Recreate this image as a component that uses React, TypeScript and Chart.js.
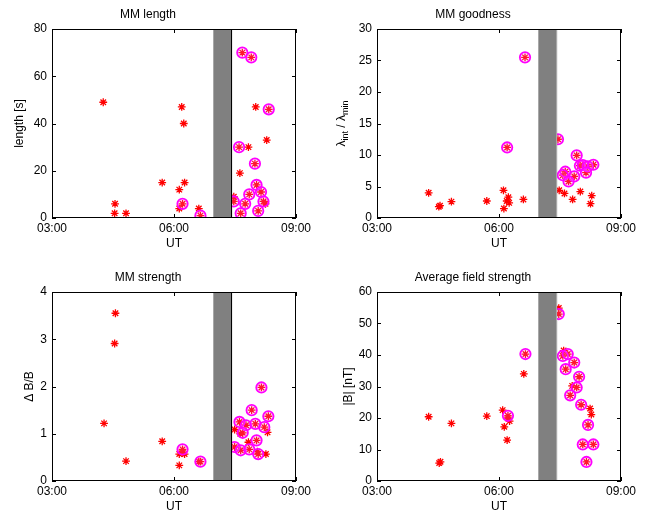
import React, { useEffect, useRef } from 'react';
import { Chart, registerables } from 'chart.js';

Chart.register(...registerables);

const FONT = "'Liberation Sans', Arial, Helvetica, sans-serif";

// Shared x axis (UT, decimal hours)
const xTickValues = [3, 6, 9];
const xTickLabels = ['03:00', '06:00', '09:00'];
const gapStart = 6.97;
const gapEnd = 7.43;

// MM length [s]
const lengthStarT = [4.26, 4.55, 4.54, 4.82, 5.71, 6.13, 6.13, 6.19, 6.24, 6.26, 6.61, 8.01, 8.28, 7.83, 7.62, 8.25, 7.47];
const lengthStarV = [49, 6, 2, 2, 15, 12, 4, 47, 40, 15, 4, 47, 33, 30, 19, 6, 9];
const lengthCircT = [6.21, 6.65, 7.68, 7.9, 8.33, 7.6, 7.99, 8.03, 8.14, 7.85, 8.2, 7.75, 8.07, 7.64, 7.47];
const lengthCircV = [6, 1, 70, 68, 46, 30, 23, 14, 11, 10, 7, 6, 3, 2, 7];

// MM goodness (lambda_int / lambda_min)
const goodStarT = [4.27, 4.52, 4.55, 4.83, 5.7, 6.11, 6.12, 6.19, 6.23, 6.25, 6.6, 7.48, 7.61, 7.81, 8.0, 8.28, 8.25];
const goodStarV = [4.0, 1.8, 1.95, 2.6, 2.7, 4.4, 1.5, 2.7, 3.3, 2.4, 2.95, 4.4, 3.9, 2.95, 4.2, 3.55, 2.27];
const goodCircT = [6.2, 6.64, 7.45, 7.91, 7.99, 8.06, 8.18, 8.32, 8.14, 7.85, 7.63, 7.57, 7.71];
const goodCircV = [11.2, 25.5, 12.5, 9.94, 8.3, 8.4, 8.2, 8.45, 7.2, 6.6, 7.35, 6.8, 5.8];

// MM strength (Delta B / B)
const strStarT = [4.56, 4.54, 4.28, 4.82, 5.71, 6.13, 6.13, 6.26, 6.22, 6.61, 8.3, 7.49, 7.63, 7.83, 8.05, 8.26];
const strStarV = [3.55, 2.91, 1.22, 0.42, 0.84, 0.33, 0.57, 0.57, 0.6, 0.41, 1.03, 1.09, 1.0, 0.82, 0.62, 0.57];
const strCircT = [6.21, 6.65, 8.15, 7.91, 8.32, 7.61, 7.77, 8.0, 8.22, 7.69, 8.03, 7.49, 7.64, 7.85, 8.07];
const strCircV = [0.67, 0.41, 1.98, 1.5, 1.37, 1.25, 1.18, 1.21, 1.14, 1.02, 0.86, 0.72, 0.65, 0.67, 0.57];

// Average field strength |B| [nT]
const fieldStarT = [4.27, 4.53, 4.56, 4.83, 5.7, 6.09, 6.13, 6.2, 6.22, 6.26, 6.61, 7.47, 7.59, 7.8, 8.24, 8.27];
const fieldStarV = [20.4, 5.7, 6.1, 18.3, 20.6, 22.5, 17.2, 13.0, 20.0, 19.0, 34.0, 54.9, 41.4, 30.2, 23.0, 21.1];
const fieldCircT = [6.22, 6.65, 7.47, 7.57, 7.69, 7.85, 7.64, 7.97, 7.91, 7.75, 8.02, 8.19, 8.06, 8.32, 8.15];
const fieldCircV = [20.7, 40.3, 53.0, 39.7, 40.3, 37.6, 35.5, 33.1, 29.7, 27.2, 24.2, 17.8, 11.6, 11.6, 6.05];

type Seg = { t: string; sub: boolean };

interface PanelCfg {
  title: string;
  yTitle: string | null;
  yRich?: Seg[];
  yMax: number;
  yStep: number;
  starT: number[];
  starV: number[];
  circT: number[];
  circV: number[];
  left: number;
  top: number;
  yTitleCenter: number;
  gapRightColor: string;
}

const panels: PanelCfg[] = [
  {
    title: 'MM length', yTitle: 'length [s]', yMax: 80, yStep: 20,
    starT: lengthStarT, starV: lengthStarV, circT: lengthCircT, circV: lengthCircV,
    left: 0, top: 0, yTitleCenter: 19.5, gapRightColor: '#000000',
  },
  {
    title: 'MM goodness', yTitle: null,
    yRich: [{ t: 'λ', sub: false }, { t: 'int', sub: true }, { t: ' / λ', sub: false }, { t: 'min', sub: true }],
    yMax: 30, yStep: 5,
    starT: goodStarT, starV: goodStarV, circT: goodCircT, circV: goodCircV,
    left: 325, top: 0, yTitleCenter: 16.7, gapRightColor: '#a8a8a8',
  },
  {
    title: 'MM strength', yTitle: 'Δ B/B', yMax: 4, yStep: 1,
    starT: strStarT, starV: strStarV, circT: strCircT, circV: strCircV,
    left: 0, top: 263, yTitleCenter: 29.7, gapRightColor: '#000000',
  },
  {
    title: 'Average field strength', yTitle: '|B| [nT]', yMax: 60, yStep: 10,
    starT: fieldStarT, starV: fieldStarV, circT: fieldCircT, circV: fieldCircV,
    left: 325, top: 263, yTitleCenter: 23.7, gapRightColor: '#a8a8a8',
  },
];

const CANVAS_W = 316;
const CANVAS_H = 251;
const Y_AXIS_W = 52;
const X_AXIS_H = 33;
const TICK_LEN = 4;

function Panel({ cfg }: { cfg: PanelCfg }) {
  const ref = useRef<HTMLCanvasElement>(null);

  useEffect(() => {
    if (!ref.current) return;
    const starPts = [...cfg.starT, ...cfg.circT].map((t, i) => ({
      x: t,
      y: i < cfg.starT.length ? cfg.starV[i] : cfg.circV[i - cfg.starT.length],
    }));
    const circPts = cfg.circT.map((t, i) => ({ x: t, y: cfg.circV[i] }));

    const framePlugin = {
      id: 'frame',
      afterDatasetsDraw(chart: any) {
        const { ctx, chartArea } = chart;
        const xs = chart.scales.x;
        const x0 = xs.getPixelForValue(gapStart);
        const x1 = xs.getPixelForValue(gapEnd);
        ctx.save();
        ctx.fillStyle = '#808080';
        ctx.fillRect(x0, chartArea.top, x1 - x0, chartArea.bottom - chartArea.top);
        ctx.lineWidth = 1;
        ctx.strokeStyle = '#a8a8a8';
        ctx.beginPath();
        ctx.moveTo(Math.round(x0) + 0.5, chartArea.top);
        ctx.lineTo(Math.round(x0) + 0.5, chartArea.bottom);
        ctx.stroke();
        ctx.strokeStyle = cfg.gapRightColor;
        ctx.beginPath();
        ctx.moveTo(Math.round(x1) - 0.5, chartArea.top);
        ctx.lineTo(Math.round(x1) - 0.5, chartArea.bottom);
        ctx.stroke();
        ctx.restore();
      },
      afterDraw(chart: any) {
        const { ctx, chartArea } = chart;
        const { left, right, top, bottom } = chartArea;
        const xs = chart.scales.x;
        const ys = chart.scales.y;
        ctx.save();
        ctx.strokeStyle = '#000';
        ctx.lineWidth = 1;
        ctx.strokeRect(left + 0.5, top + 0.5, right - left - 1, bottom - top - 1);
        ctx.beginPath();
        xs.ticks.forEach((tk: any) => {
          const px = Math.round(xs.getPixelForValue(tk.value)) + 0.5;
          ctx.moveTo(px, bottom);
          ctx.lineTo(px, bottom - TICK_LEN);
          ctx.moveTo(px, top);
          ctx.lineTo(px, top + TICK_LEN);
        });
        ys.ticks.forEach((tk: any) => {
          const py = Math.round(ys.getPixelForValue(tk.value)) + 0.5;
          ctx.moveTo(left, py);
          ctx.lineTo(left + TICK_LEN, py);
          ctx.moveTo(right, py);
          ctx.lineTo(right - TICK_LEN, py);
        });
        ctx.stroke();

        if (cfg.yRich) {
          const big = 12;
          const small = 9;
          const cx = cfg.yTitleCenter;
          const cy = (top + bottom) / 2;
          ctx.translate(cx, cy);
          ctx.rotate(-Math.PI / 2);
          ctx.fillStyle = '#000';
          ctx.textBaseline = 'middle';
          ctx.textAlign = 'left';
          const widths = cfg.yRich.map((s) => {
            ctx.font = `${s.sub ? small : big}px ${FONT}`;
            return ctx.measureText(s.t).width;
          });
          let x = -widths.reduce((a, b) => a + b, 0) / 2;
          cfg.yRich.forEach((s, i) => {
            ctx.font = `${s.sub ? small : big}px ${FONT}`;
            ctx.fillText(s.t, x, s.sub ? 3.5 : 0);
            x += widths[i];
          });
        }
        ctx.restore();
      },
    };

    const font = { family: FONT, size: 12, weight: 'normal' as const };

    const chart = new Chart(ref.current, {
      type: 'scatter',
      data: {
        datasets: [
          {
            data: circPts,
            pointStyle: 'circle',
            pointRadius: 5.2,
            pointHoverRadius: 5.2,
            borderColor: '#ff00ff',
            backgroundColor: 'rgba(255,120,255,0.18)',
            borderWidth: 1.8,
          },
          {
            data: starPts,
            pointStyle: 'star',
            pointRadius: 3.9,
            pointHoverRadius: 3.9,
            borderColor: '#ff0000',
            backgroundColor: '#ff0000',
            borderWidth: 1.3,
          },
        ],
      },
      options: {
        responsive: false,
        animation: false,
        devicePixelRatio: 1,
        events: [],
        layout: { padding: { left: 0, right: 20, top: 0, bottom: 0 } },
        plugins: {
          legend: { display: false },
          tooltip: { enabled: false },
          title: {
            display: true,
            text: cfg.title,
            color: '#000',
            font,
            padding: { top: 7.8, bottom: 6.8 },
          },
        },
        scales: {
          x: {
            type: 'linear',
            min: 3,
            max: 9,
            afterBuildTicks: (s: any) => {
              s.ticks = xTickValues.map((v) => ({ value: v }));
            },
            afterFit: (s: any) => {
              s.height = X_AXIS_H;
            },
            grid: { display: false, drawTicks: false },
            border: { display: false },
            ticks: {
              callback: (v: any) => {
                const i = xTickValues.indexOf(Number(v));
                return i >= 0 ? xTickLabels[i] : '';
              },
              color: '#000',
              font,
              padding: 3.5,
              maxRotation: 0,
              autoSkip: false,
            },
            title: {
              display: true,
              text: 'UT',
              color: '#000',
              font,
              padding: { top: 0, bottom: 0 },
            },
          },
          y: {
            type: 'linear',
            min: 0,
            max: cfg.yMax,
            afterFit: (s: any) => {
              s.width = Y_AXIS_W;
            },
            grid: { display: false, drawTicks: false },
            border: { display: false },
            ticks: {
              stepSize: cfg.yStep,
              color: '#000',
              font,
              padding: 5,
            },
            title: {
              display: !!cfg.yTitle,
              text: cfg.yTitle || '',
              color: '#000',
              font,
              padding: { top: cfg.yTitleCenter - 7.2, bottom: 0 },
            },
          },
        },
      },
      plugins: [framePlugin],
    });
    return () => chart.destroy();
  }, [cfg]);

  return (
    <canvas
      ref={ref}
      width={CANVAS_W}
      height={CANVAS_H}
      style={{ position: 'absolute', left: cfg.left, top: cfg.top, width: CANVAS_W, height: CANVAS_H }}
    />
  );
}

export default function App() {
  return (
    <div
      style={{
        position: 'absolute',
        left: 0,
        top: 0,
        width: 647,
        height: 514,
        background: '#fff',
        overflow: 'hidden',
      }}
    >
      {panels.map((p) => (
        <Panel key={p.title} cfg={p} />
      ))}
    </div>
  );
}
